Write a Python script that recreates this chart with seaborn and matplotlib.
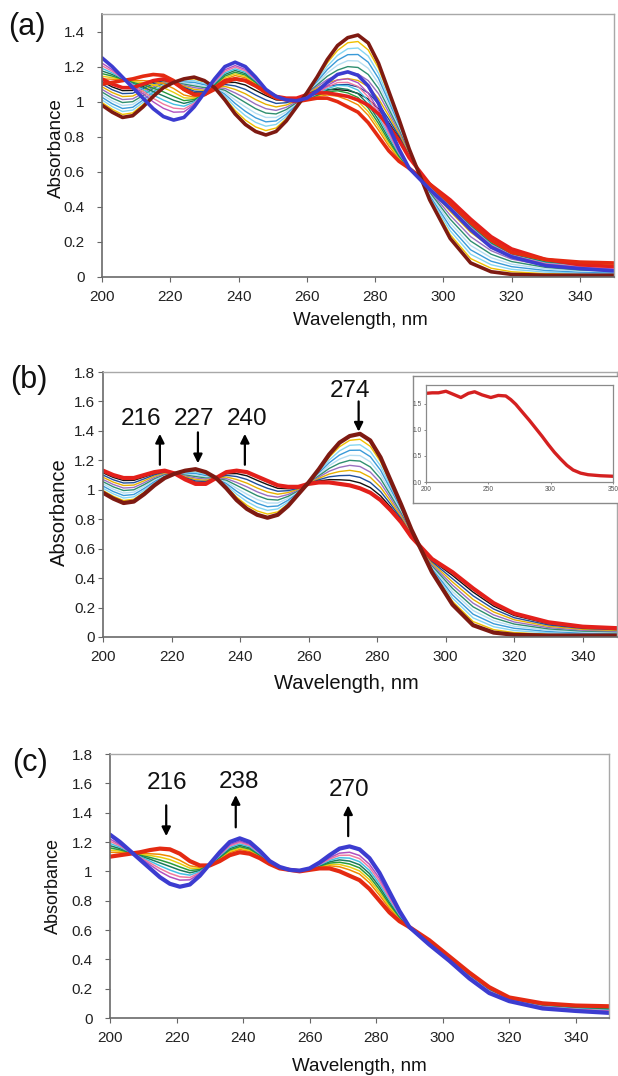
import matplotlib
matplotlib.use("Agg")
import matplotlib.pyplot as plt
import pandas as pd
import seaborn as sns

# ---------------- data ----------------
wavelength = [200, 203, 206, 209, 212, 215, 218, 221, 224, 227, 230, 233, 236, 239, 242,
              245, 248, 251, 254, 257, 260, 263, 266, 269, 272, 275, 278, 281, 284, 287,
              290, 296, 302, 308, 314, 320, 330, 340, 350]

# titration series shown in panel (b)
b0 = [0.98,0.94,0.91,0.92,0.97,1.03,1.08,1.11,1.13,1.14,1.12,1.08,1.01,0.93,0.87,0.83,0.81,0.83,0.89,0.97,1.05,1.14,1.24,1.32,1.365,1.38,1.335,1.22,1.06,0.90,0.73,0.44,0.22,0.08,0.03,0.015,0.01,0.01,0.01]
b1 = [0.995,0.956,0.927,0.936,0.983,1.039,1.085,1.11,1.124,1.13,1.112,1.08,1.021,0.95,0.895,0.856,0.835,0.85,0.903,0.975,1.049,1.131,1.221,1.292,1.336,1.343,1.295,1.191,1.04,0.888,0.725,0.449,0.242,0.105,0.05,0.03,0.019,0.016,0.015]
b2 = [1.01,0.972,0.944,0.952,0.996,1.048,1.09,1.11,1.118,1.12,1.104,1.08,1.032,0.97,0.92,0.882,0.86,0.87,0.916,0.98,1.048,1.122,1.202,1.264,1.302,1.306,1.26,1.162,1.02,0.876,0.72,0.458,0.264,0.13,0.07,0.044,0.028,0.022,0.02]
b3 = [1.025,0.988,0.961,0.968,1.009,1.057,1.095,1.11,1.112,1.11,1.096,1.08,1.043,0.99,0.945,0.908,0.885,0.89,0.929,0.985,1.047,1.113,1.183,1.236,1.268,1.269,1.225,1.133,1.00,0.864,0.715,0.467,0.286,0.155,0.09,0.059,0.037,0.028,0.025]
b4 = [1.04,1.004,0.978,0.984,1.022,1.066,1.10,1.11,1.106,1.10,1.088,1.08,1.054,1.01,0.97,0.934,0.91,0.91,0.942,0.99,1.046,1.104,1.164,1.208,1.234,1.232,1.19,1.104,0.98,0.852,0.71,0.476,0.308,0.18,0.11,0.073,0.046,0.034,0.03]
b5 = [1.055,1.02,0.995,1.00,1.035,1.075,1.105,1.11,1.10,1.09,1.08,1.08,1.065,1.03,0.995,0.96,0.935,0.93,0.955,0.995,1.045,1.095,1.145,1.18,1.20,1.195,1.155,1.075,0.96,0.84,0.705,0.485,0.33,0.205,0.13,0.088,0.055,0.04,0.035]
b6 = [1.07,1.036,1.012,1.016,1.048,1.084,1.11,1.11,1.094,1.08,1.072,1.08,1.076,1.05,1.02,0.986,0.96,0.95,0.968,1.00,1.044,1.086,1.126,1.152,1.166,1.158,1.12,1.046,0.94,0.828,0.70,0.494,0.352,0.23,0.15,0.102,0.064,0.046,0.04]
b7 = [1.085,1.052,1.029,1.032,1.061,1.093,1.115,1.11,1.088,1.07,1.064,1.08,1.087,1.07,1.045,1.012,0.985,0.97,0.981,1.005,1.043,1.077,1.107,1.124,1.132,1.121,1.085,1.017,0.92,0.816,0.695,0.503,0.374,0.255,0.17,0.117,0.073,0.052,0.045]
b8 = [1.10,1.068,1.046,1.048,1.074,1.102,1.12,1.11,1.082,1.06,1.056,1.08,1.098,1.09,1.07,1.038,1.01,0.99,0.994,1.01,1.042,1.068,1.088,1.096,1.098,1.084,1.05,0.988,0.90,0.804,0.69,0.512,0.396,0.28,0.19,0.131,0.082,0.058,0.05]
b9 = [1.115,1.084,1.063,1.064,1.087,1.111,1.125,1.11,1.076,1.05,1.048,1.08,1.109,1.11,1.095,1.064,1.035,1.01,1.007,1.015,1.041,1.059,1.069,1.068,1.064,1.047,1.015,0.959,0.88,0.792,0.685,0.521,0.418,0.305,0.21,0.146,0.091,0.064,0.055]
b10 = [1.13,1.10,1.08,1.08,1.10,1.12,1.13,1.11,1.07,1.04,1.04,1.08,1.12,1.13,1.12,1.09,1.06,1.03,1.02,1.02,1.04,1.05,1.05,1.04,1.03,1.01,0.98,0.93,0.86,0.78,0.68,0.53,0.44,0.33,0.23,0.16,0.10,0.07,0.06]

# titration series shown in panel (c)
c0 = [1.10,1.11,1.12,1.13,1.145,1.155,1.15,1.12,1.07,1.04,1.04,1.07,1.11,1.13,1.12,1.09,1.05,1.02,1.01,1.00,1.01,1.02,1.02,1.00,0.97,0.94,0.88,0.80,0.72,0.66,0.62,0.53,0.42,0.31,0.21,0.14,0.10,0.085,0.08]
c2 = [1.13,1.128,1.124,1.12,1.12,1.116,1.103,1.075,1.038,1.026,1.042,1.082,1.128,1.149,1.136,1.10,1.054,1.022,1.01,1.001,1.012,1.028,1.038,1.031,1.01,0.982,0.922,0.838,0.748,0.674,0.62,0.524,0.414,0.302,0.202,0.135,0.093,0.078,0.071]
c3 = [1.145,1.137,1.126,1.115,1.108,1.097,1.08,1.053,1.022,1.019,1.043,1.088,1.137,1.159,1.144,1.105,1.056,1.023,1.01,1.002,1.013,1.032,1.047,1.047,1.03,1.003,0.943,0.857,0.762,0.681,0.62,0.521,0.411,0.298,0.198,0.133,0.09,0.074,0.067]
c4 = [1.16,1.146,1.128,1.11,1.095,1.077,1.056,1.03,1.006,1.012,1.044,1.094,1.146,1.168,1.152,1.11,1.058,1.024,1.01,1.002,1.014,1.036,1.056,1.062,1.05,1.024,0.964,0.876,0.776,0.688,0.62,0.518,0.408,0.294,0.194,0.13,0.086,0.07,0.062]
c5 = [1.175,1.155,1.13,1.105,1.083,1.058,1.033,1.008,0.99,1.005,1.045,1.10,1.155,1.178,1.16,1.115,1.06,1.025,1.01,1.003,1.015,1.04,1.065,1.078,1.07,1.045,0.985,0.895,0.79,0.695,0.62,0.515,0.405,0.29,0.19,0.128,0.083,0.067,0.058]
c6 = [1.19,1.164,1.132,1.10,1.07,1.038,1.009,0.985,0.974,0.998,1.046,1.106,1.164,1.187,1.168,1.12,1.062,1.026,1.01,1.003,1.016,1.044,1.074,1.093,1.09,1.066,1.006,0.914,0.804,0.702,0.62,0.512,0.402,0.286,0.186,0.125,0.079,0.063,0.053]
c7 = [1.205,1.173,1.134,1.095,1.058,1.019,0.986,0.963,0.958,0.991,1.047,1.112,1.173,1.197,1.176,1.125,1.064,1.027,1.01,1.004,1.017,1.048,1.083,1.109,1.11,1.087,1.027,0.933,0.818,0.709,0.62,0.509,0.399,0.282,0.182,0.123,0.076,0.059,0.049]
c8 = [1.22,1.182,1.136,1.09,1.045,0.999,0.962,0.94,0.942,0.984,1.048,1.118,1.182,1.206,1.184,1.13,1.066,1.028,1.01,1.004,1.018,1.052,1.092,1.124,1.13,1.108,1.048,0.952,0.832,0.716,0.62,0.506,0.396,0.278,0.178,0.12,0.072,0.055,0.044]
c10 = [1.25,1.20,1.14,1.08,1.02,0.96,0.915,0.895,0.91,0.97,1.05,1.13,1.20,1.225,1.20,1.14,1.07,1.03,1.01,1.005,1.02,1.06,1.11,1.155,1.17,1.15,1.09,0.99,0.86,0.73,0.62,0.50,0.39,0.27,0.17,0.115,0.065,0.048,0.035]

# inset of panel (b)
inset_wl = [200,205,210,216,222,228,234,239,245,252,258,264,268,272,278,283,288,293,298,303,308,313,318,324,330,340,350]
inset_abs = [1.70,1.71,1.71,1.74,1.68,1.62,1.70,1.73,1.67,1.62,1.66,1.65,1.58,1.49,1.32,1.18,1.03,0.88,0.72,0.57,0.44,0.32,0.23,0.17,0.14,0.12,0.11]

# peak annotations
b_peak_labels = ["216", "227", "240", "274"]
b_peak_wl = [216.6, 227.7, 241.4, 274.6]
b_peak_dir = ["up", "down", "up", "down"]
c_peak_labels = ["216", "238", "270"]
c_peak_wl = [216.9, 237.8, 271.6]
c_peak_dir = ["down", "up", "up"]

x_ticks = [200, 220, 240, 260, 280, 300, 320, 340]
y_ticks_a = [0, 0.2, 0.4, 0.6, 0.8, 1, 1.2, 1.4]
y_ticks_bc = [0, 0.2, 0.4, 0.6, 0.8, 1, 1.2, 1.4, 1.6, 1.8]

# ---------------- styles ----------------
b_series = {"b1": b1, "b2": b2, "b3": b3, "b4": b4, "b5": b5, "b6": b6,
            "b7": b7, "b8": b8, "b9": b9, "b10": b10, "b0": b0}
b_colors = {"b1": "#f0c000", "b2": "#86d6f2", "b3": "#3a9ad8", "b4": "#b5def2",
            "b5": "#2f8f6f", "b6": "#9a6fc0", "b7": "#e6b000", "b8": "#1f4e9a",
            "b9": "#111111", "b10": "#e3201b", "b0": "#7e1a12"}
c_series = {"c2": c2, "c3": c3, "c4": c4, "c5": c5, "c6": c6, "c7": c7,
            "c8": c8, "c0": c0, "c10": c10}
c_colors = {"c2": "#f08a00", "c3": "#e8cc10", "c4": "#2a9a3a", "c5": "#1a7a5a",
            "c6": "#44c0e4", "c7": "#f07aa0", "c8": "#b050c0", "c0": "#e42a12",
            "c10": "#3c3cd0"}

sns.set_theme(style="white")
plt.rcParams["font.family"] = ["Liberation Sans", "DejaVu Sans"]

W, H = 618, 1076
fig = plt.figure(figsize=(W / 100, H / 100), dpi=100)


def px_axes(l, t, r, b):
    return fig.add_axes([l / W, 1 - b / H, (r - l) / W, (b - t) / H])


def long_frame(series):
    frames = [pd.DataFrame({"wl": wavelength, "abs": vals, "curve": name})
              for name, vals in series.items()]
    return pd.concat(frames, ignore_index=True)


def draw(ax, series, colors, thin, thick, thick_names):
    df = long_frame(series)
    order = list(series.keys())
    widths = {n: (thick if n in thick_names else thin) for n in order}
    sns.lineplot(data=df, x="wl", y="abs", hue="curve", hue_order=order,
                 palette=colors, size="curve", size_order=order, sizes=widths,
                 estimator=None, sort=False, legend=False, ax=ax)


def style_axes(ax, yticks, ymax, ypad, tick_fs, xlab_fs, ylab_fs, xlab_pos, ylab_pos):
    ax.set_xlim(200, 350)
    ax.set_ylim(0, ymax)
    ax.set_xticks(x_ticks)
    ax.set_xticklabels([str(v) for v in x_ticks])
    ax.set_yticks(yticks)
    ax.set_yticklabels([f"{v:g}" for v in yticks])
    ax.tick_params(axis="both", direction="out", length=3.5, width=0.8,
                   color="#666666", labelcolor="#222222", labelsize=tick_fs,
                   bottom=True, left=True)
    ax.tick_params(axis="y", pad=ypad)
    ax.tick_params(axis="x", pad=6)
    for side in ("left", "bottom"):
        ax.spines[side].set_color("#6a6a6a")
        ax.spines[side].set_linewidth(1.2)
    for side in ("top", "right"):
        ax.spines[side].set_color("#a8a8a8")
        ax.spines[side].set_linewidth(1.0)
    ax.set_xlabel("Wavelength, nm", fontsize=xlab_fs, color="#111111")
    ax.set_ylabel("Absorbance", fontsize=ylab_fs, color="#111111")
    ax.xaxis.set_label_coords(*xlab_pos)
    ax.xaxis.label.set_va("center")
    ax.yaxis.set_label_coords(*ylab_pos)
    ax.yaxis.label.set_va("center")
    ax.grid(False)
    ax.set_facecolor("white")


def annotate_peaks(ax, labels, wls, dirs, text_xy, tails, heads):
    for lab, x, d, (tx, ty), t, h in zip(labels, wls, dirs, text_xy, tails, heads):
        ax.text(tx, ty, lab, fontsize=17.5, ha="center", va="center", color="#111111")
        ax.annotate("", xy=(x, h), xytext=(x, t),
                    arrowprops=dict(arrowstyle="-|>", color="black", lw=1.6,
                                    mutation_scale=13, shrinkA=0, shrinkB=0))


# ---------------- panel (a) ----------------
ax_a = px_axes(102, 14, 614, 277)
a_series = {}
a_colors = {}
for k in ["b1", "b2", "b3", "b4", "b5", "b6", "b7", "b8", "b9"]:
    a_series["a_" + k] = b_series[k]; a_colors["a_" + k] = b_colors[k]
for k in ["c2", "c3", "c4", "c5", "c6", "c7", "c8"]:
    a_series["a_" + k] = c_series[k]; a_colors["a_" + k] = c_colors[k]
for k, src, col in [("b10", b_series, b_colors), ("c0", c_series, c_colors),
                    ("b0", b_series, b_colors), ("c10", c_series, c_colors)]:
    a_series["a_" + k] = src[k]; a_colors["a_" + k] = col[k]
draw(ax_a, a_series, a_colors, 1.0, 2.6, {"a_b10", "a_c0", "a_b0", "a_c10"})
style_axes(ax_a, y_ticks_a, 1.5, 9, 11, 13.5, 13.5, (0.504, -0.1635), (-0.088, 0.49))

# ---------------- panel (b) ----------------
ax_b = px_axes(103, 372, 617, 637)
draw(ax_b, b_series, b_colors, 1.0, 3.0, {"b0", "b10"})
style_axes(ax_b, y_ticks_bc, 1.8, 2, 11, 14.5, 14.5, (0.473, -0.1736), (-0.0856, 0.472))
annotate_peaks(ax_b, b_peak_labels, b_peak_wl, b_peak_dir,
               [(211, 1.48), (226.6, 1.48), (242, 1.48), (272, 1.67)],
               [1.17, 1.39, 1.17, 1.60], [1.38, 1.18, 1.38, 1.395])

# inset frame and inset plot
ax_frame = px_axes(413, 376, 621, 503)
ax_frame.set_xticks([]); ax_frame.set_yticks([])
ax_frame.set_facecolor("white")
for s in ax_frame.spines.values():
    s.set_color("#8a8a8a"); s.set_linewidth(1.0)

ax_in = px_axes(426, 385, 613, 482)
sns.lineplot(x=inset_wl, y=inset_abs, color="#d42020", linewidth=2.4, ax=ax_in,
             estimator=None, sort=False)
ax_in.set_xlim(200, 350)
ax_in.set_ylim(0, 1.86)
ax_in.set_xticks([200, 250, 300, 350])
ax_in.set_xticklabels(["200", "250", "300", "350"])
ax_in.set_yticks([0, 0.5, 1.0, 1.5])
ax_in.set_yticklabels(["0.0", "0.5", "1.0", "1.5"])
ax_in.tick_params(axis="both", direction="out", length=1.5, width=0.6, pad=1.5,
                  labelsize=4.8, color="#777777", labelcolor="#555555",
                  bottom=True, left=True)
ax_in.set_facecolor("white")
ax_in.grid(False)
for s in ax_in.spines.values():
    s.set_color("#8a8a8a"); s.set_linewidth(0.9)

# ---------------- panel (c) ----------------
ax_c = px_axes(110, 754, 609, 1018)
draw(ax_c, c_series, c_colors, 1.1, 3.0, {"c0", "c10"})
style_axes(ax_c, y_ticks_bc, 1.8, 9, 11, 13.5, 13, (0.499, -0.1856), (-0.1142, 0.5))
annotate_peaks(ax_c, c_peak_labels, c_peak_wl, c_peak_dir,
               [(217, 1.60), (238.9, 1.61), (271.8, 1.555)],
               [1.45, 1.30, 1.24], [1.24, 1.52, 1.45])

# panel letters
fig.text(8 / W, 1 - 27 / H, "(a)", fontsize=22, ha="left", va="center", color="#111111")
fig.text(10 / W, 1 - 380 / H, "(b)", fontsize=22, ha="left", va="center", color="#111111")
fig.text(12 / W, 1 - 763 / H, "(c)", fontsize=22, ha="left", va="center", color="#111111")

fig.savefig("out.png", dpi=100, facecolor="white")
